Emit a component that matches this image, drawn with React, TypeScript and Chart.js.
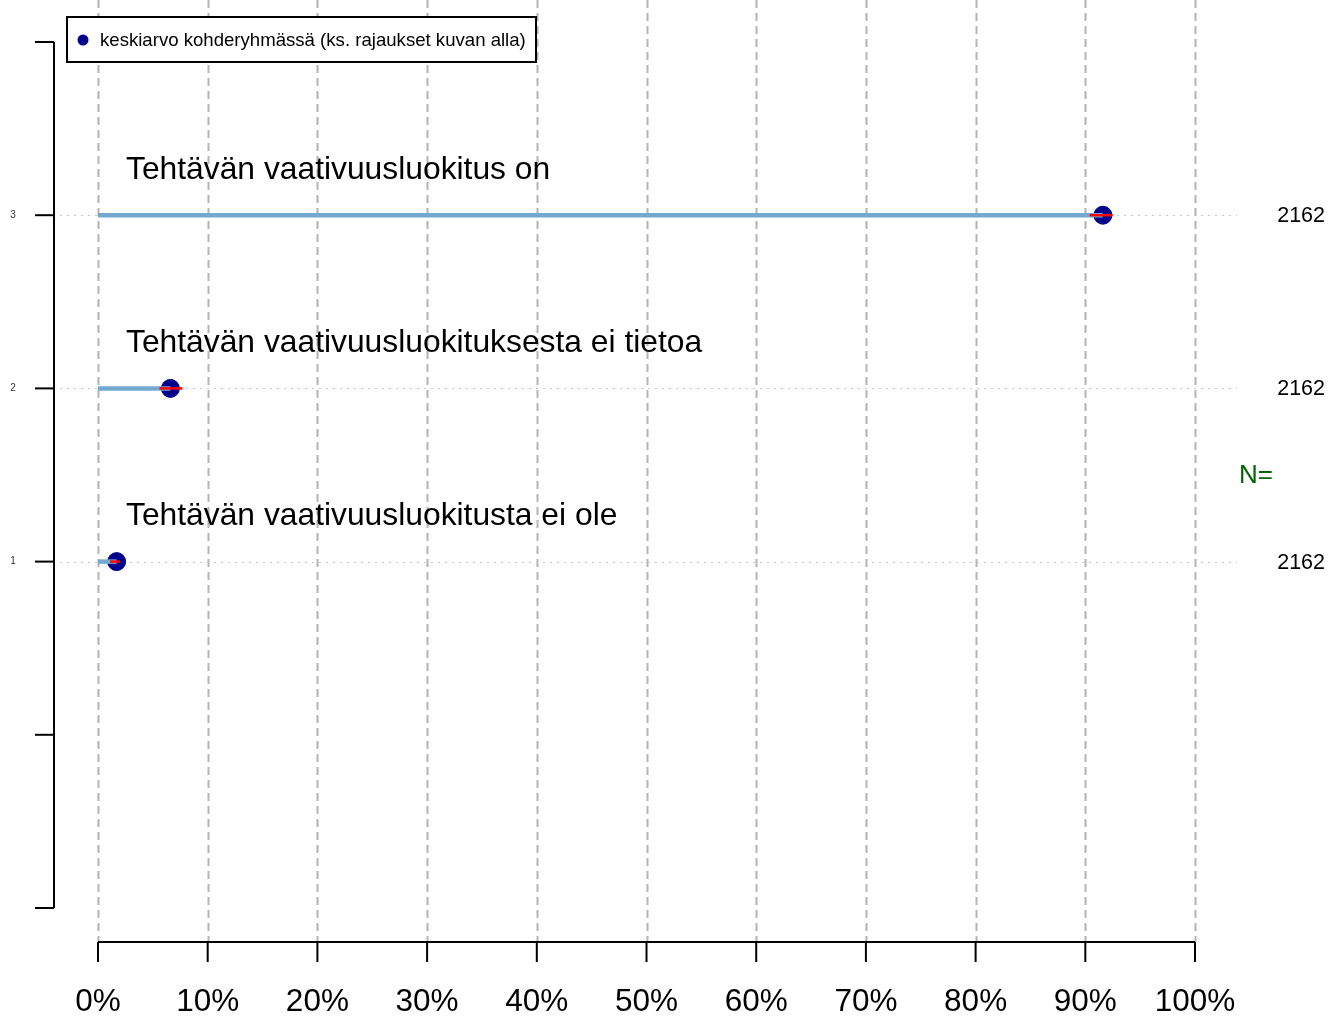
import React, { useEffect, useRef } from "react";
import { Chart, registerables } from "chart.js";

Chart.register(...registerables);

const categories = [
  "Tehtävän vaativuusluokitusta ei ole",
  "Tehtävän vaativuusluokituksesta ei tietoa",
  "Tehtävän vaativuusluokitus on",
];
const rows = [1, 2, 3];
const means = [1.7, 6.6, 91.6];
const ciLow = [1.1, 5.6, 90.4];
const ciHigh = [2.0, 7.7, 92.5];
const counts = [2162, 2162, 2162];
const xTicks = [0, 10, 20, 30, 40, 50, 60, 70, 80, 90, 100];
const yAxisTicks = [-1, 0, 1, 2, 3, 4];
const yTickLabels = ["", "", "1", "2", "3", ""];
const legendLabel = "keskiarvo kohderyhmässä (ks. rajaukset kuvan alla)";
const nLabel = "N=";

const FONT = "'Liberation Sans', Arial, Helvetica, sans-serif";

const decorPlugin = {
  id: "decor",
  beforeDatasetsDraw(chart: any) {
    const { ctx } = chart;
    const xs = chart.scales.x;
    const ys = chart.scales.y;
    const axisY = 942;
    ctx.save();
    ctx.strokeStyle = "#b4b4b4";
    ctx.lineWidth = 2;
    ctx.setLineDash([8, 5]);
    xTicks.forEach((t) => {
      const px = Math.round(xs.getPixelForValue(t)) + 0.5;
      ctx.beginPath();
      ctx.moveTo(px, 0);
      ctx.lineTo(px, axisY);
      ctx.stroke();
    });
    ctx.strokeStyle = "#c8c8c8";
    ctx.lineWidth = 1;
    ctx.setLineDash([2, 5]);
    rows.forEach((r) => {
      const py = Math.round(ys.getPixelForValue(r)) + 0.5;
      ctx.beginPath();
      ctx.moveTo(xs.left + 6, py);
      ctx.lineTo(xs.right - 3, py);
      ctx.stroke();
    });
    ctx.restore();
  },
  afterDatasetsDraw(chart: any) {
    const { ctx } = chart;
    const xs = chart.scales.x;
    const ys = chart.scales.y;
    const axisY = 942;
    ctx.save();
    ctx.setLineDash([]);
    ctx.strokeStyle = "#000";
    ctx.lineWidth = 2;
    const x0 = xs.getPixelForValue(0);
    const x100 = xs.getPixelForValue(100);
    ctx.beginPath();
    ctx.moveTo(x0, axisY);
    ctx.lineTo(x100, axisY);
    ctx.stroke();
    ctx.fillStyle = "#000";
    ctx.font = `31.5px ${FONT}`;
    ctx.textAlign = "center";
    ctx.textBaseline = "middle";
    xTicks.forEach((t) => {
      const px = xs.getPixelForValue(t);
      ctx.beginPath();
      ctx.moveTo(px, axisY);
      ctx.lineTo(px, axisY + 20);
      ctx.stroke();
      ctx.fillText(`${t}%`, px, 1002);
    });
    const ax = xs.left;
    const yTop = ys.getPixelForValue(4);
    const yBot = ys.getPixelForValue(-1);
    ctx.beginPath();
    ctx.moveTo(ax, yTop);
    ctx.lineTo(ax, yBot);
    ctx.stroke();
    ctx.font = `10px ${FONT}`;
    ctx.fillStyle = "#333";
    yAxisTicks.forEach((t, i) => {
      const py = ys.getPixelForValue(t);
      ctx.beginPath();
      ctx.moveTo(ax - 19, py);
      ctx.lineTo(ax, py);
      ctx.stroke();
      if (yTickLabels[i]) ctx.fillText(yTickLabels[i], 13, py);
    });
    ctx.fillStyle = "#000";
    ctx.font = `31.8px ${FONT}`;
    ctx.textAlign = "left";
    categories.forEach((c, i) => {
      ctx.fillText(c, x0 + 28, ys.getPixelForValue(rows[i]) - 45);
    });
    ctx.font = `21.5px ${FONT}`;
    ctx.textAlign = "right";
    counts.forEach((n, i) => {
      ctx.fillText(String(n), 1325, ys.getPixelForValue(rows[i]) + 1);
    });
    ctx.fillStyle = "#006400";
    ctx.font = `26px ${FONT}`;
    ctx.textAlign = "left";
    ctx.fillText(nLabel, 1239, ys.getPixelForValue(1.5) + 1);
    ctx.fillStyle = "#fff";
    ctx.fillRect(67, 17, 469, 45);
    ctx.strokeStyle = "#000";
    ctx.lineWidth = 2;
    ctx.strokeRect(67, 17, 469, 45);
    ctx.fillStyle = "#00008B";
    ctx.beginPath();
    ctx.arc(83, 40, 5.5, 0, Math.PI * 2);
    ctx.fill();
    ctx.fillStyle = "#000";
    ctx.font = `18.6px ${FONT}`;
    ctx.fillText(legendLabel, 100, 41);
    ctx.restore();
  },
};

export default function App() {
  const ref = useRef<HTMLCanvasElement>(null);
  useEffect(() => {
    if (!ref.current) return;
    const datasets: any[] = [];
    datasets.push({
      label: legendLabel,
      data: rows.map((r, i) => ({ x: means[i], y: r })),
      backgroundColor: "#00008B",
      borderColor: "#00008B",
      pointRadius: 9,
      pointHoverRadius: 9,
      showLine: false,
      order: 3,
    });
    rows.forEach((r, i) => {
      datasets.push({
        label: "bar" + i,
        data: [
          { x: 0, y: r },
          { x: means[i], y: r },
        ],
        borderColor: "#74a9cf",
        borderWidth: 4.5,
        pointRadius: 0,
        showLine: true,
        order: 2,
      });
      datasets.push({
        label: "ci" + i,
        data: [
          { x: ciLow[i], y: r },
          { x: ciHigh[i], y: r },
        ],
        borderColor: "#ff0000",
        borderWidth: 2.5,
        pointRadius: 0,
        showLine: true,
        order: 1,
      });
    });
    const chart = new Chart(ref.current, {
      type: "scatter",
      data: { datasets },
      options: {
        animation: false,
        responsive: false,
        layout: { padding: { left: 54, right: 103, top: 42, bottom: 109 } },
        scales: {
          x: { type: "linear", min: -4.01, max: 104.1, display: false },
          y: { type: "linear", min: -1, max: 4, display: false },
        },
        plugins: { legend: { display: false }, tooltip: { enabled: false } },
      },
      plugins: [decorPlugin],
    });
    return () => chart.destroy();
  }, []);
  return (
    <div style={{ position: "fixed", left: 0, top: 0, width: 1343, height: 1017, background: "#fff" }}>
      <canvas ref={ref} width={1343} height={1017} style={{ width: 1343, height: 1017 }} />
    </div>
  );
}
